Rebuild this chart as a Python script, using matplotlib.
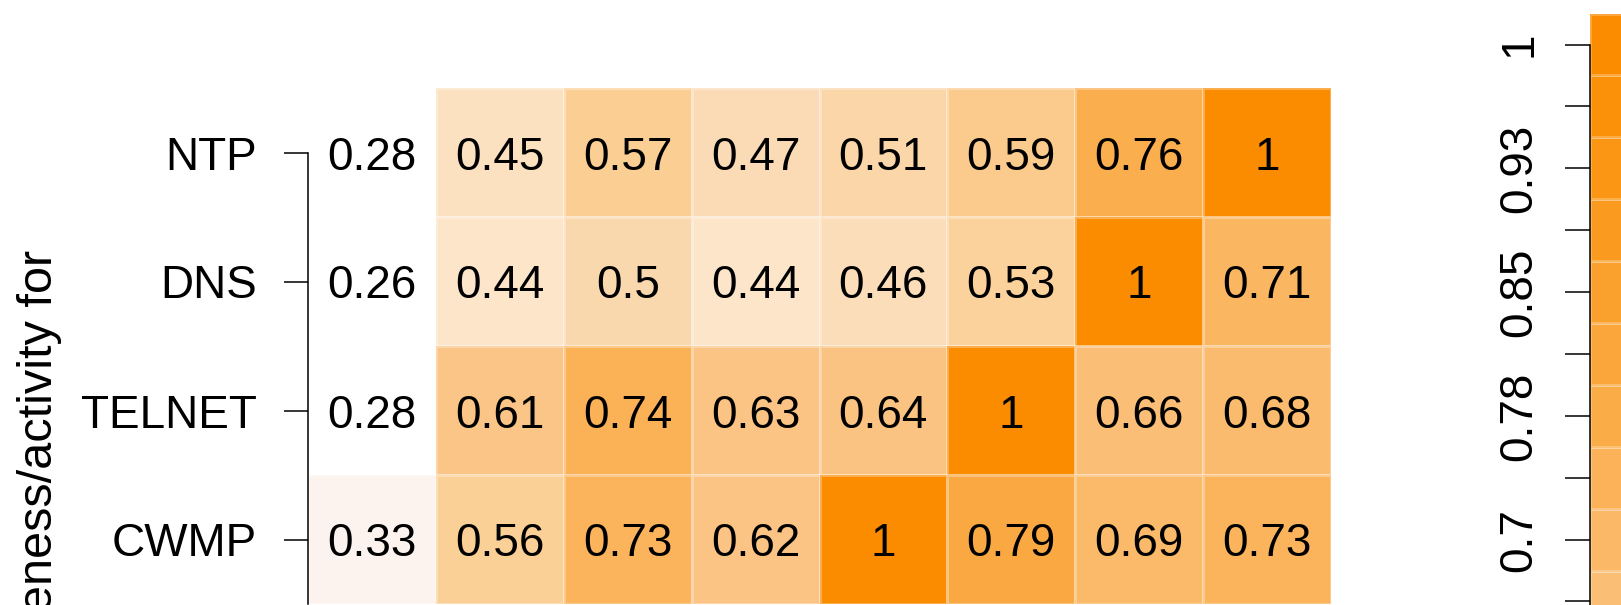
import numpy as np
import matplotlib.pyplot as plt
from matplotlib.colors import LinearSegmentedColormap, Normalize

plt.rcParams['font.family'] = ['Liberation Sans', 'DejaVu Sans']

# Protocols on the rows, eight comparison columns
protocols = ['NTP', 'DNS', 'TELNET', 'CWMP']
ntp_vals = [0.28, 0.45, 0.57, 0.47, 0.51, 0.59, 0.76, 1]
dns_vals = [0.26, 0.44, 0.5, 0.44, 0.46, 0.53, 1, 0.71]
telnet_vals = [0.28, 0.61, 0.74, 0.63, 0.64, 1, 0.66, 0.68]
cwmp_vals = [0.33, 0.56, 0.73, 0.62, 1, 0.79, 0.69, 0.73]

# colour key ticks
key_major = [1, 0.925, 0.85, 0.775, 0.7]
key_labels = ['1', '0.93', '0.85', '0.78', '0.7']
key_minor = [0.9625, 0.8875, 0.8125, 0.7375, 0.6625]

cells = np.array([ntp_vals, dns_vals, telnet_vals, cwmp_vals])
FS = 33

# white -> orange ramp
vmin, vmax = 0.25, 1.0
anchors = [
    (0.25, (255, 255, 255)), (0.29, (255, 255, 255)), (0.33, (253, 243, 238)),
    (0.44, (252, 229, 200)), (0.46, (251, 220, 185)), (0.50, (250, 216, 174)),
    (0.53, (251, 210, 156)), (0.57, (251, 207, 148)), (0.61, (251, 197, 135)),
    (0.64, (251, 195, 130)), (0.66, (251, 190, 118)), (0.70, (251, 184, 102)),
    (0.74, (251, 178, 88)), (0.775, (250, 172, 72)), (0.85, (250, 160, 45)),
    (0.925, (250, 150, 20)), (1.0, (251, 140, 0)),
]
cmap = LinearSegmentedColormap.from_list(
    'orange', [((v - vmin) / (vmax - vmin), tuple(c / 255 for c in rgb)) for v, rgb in anchors])
norm = Normalize(vmin, vmax)

W, H = 1621, 605
fig = plt.figure(figsize=(W / 100, H / 100), dpi=100, facecolor='w')

# heatmap
ax = fig.add_axes([308 / W, (H - 604) / H, (1331 - 308) / W, (604 - 88) / H])
ax.pcolormesh(np.arange(cells.shape[1] + 1), np.arange(cells.shape[0] + 1), cells,
              cmap=cmap, norm=norm, edgecolors=(1, 1, 1, 0.3), linewidth=0.8)
ax.set_xlim(0, cells.shape[1])
ax.set_ylim(cells.shape[0], 0)
for i in range(cells.shape[0]):
    for j in range(cells.shape[1]):
        ax.text(j + 0.5, i + 0.5, '{:g}'.format(round(cells[i, j], 2)),
                ha='center', va='center_baseline', fontsize=FS)
ax.set_xticks([])
ax.set_yticks(np.arange(len(protocols)) + 0.5, protocols)
ax.tick_params(axis='y', length=17.5, width=1.1, pad=19.5, labelsize=FS)
for s in ('top', 'right', 'bottom'):
    ax.spines[s].set_visible(False)
ax.spines['left'].set_linewidth(1.1)
ax.spines['left'].set_bounds(0.5, cells.shape[0])

fig.text(40 / W, (H - 250) / H, 'Responsiveness/activity for', rotation=90,
         ha='center', va='top', fontsize=35)

# colour key on the right
step = 0.0375
centers = np.arange(0.25, 1.0 + step / 2, step)
edges = np.append(centers - step / 2, centers[-1] + step / 2)
ktop = 1 + step / 2
kbot = 1 - (H - 44.5) / 1650.3
cax = fig.add_axes([1590 / W, 0, 90 / W, (H - 13.6) / H])
cax.pcolormesh([0, 1], edges, centers.reshape(-1, 1), cmap=cmap, norm=norm,
               edgecolors=(1, 1, 1, 0.25), linewidth=0.8)
cax.set_xlim(0, 1)
cax.set_ylim(kbot, ktop)
cax.set_xticks([])
cax.set_yticks(key_major, key_labels)
cax.set_yticks(key_minor, minor=True)
cax.tick_params(which='both', axis='y', length=18, width=1.1, pad=17, labelsize=FS)
for lab in cax.get_yticklabels():
    lab.set_rotation(90)
    lab.set_va('center')
for s in ('top', 'right', 'bottom'):
    cax.spines[s].set_visible(False)
cax.spines['left'].set_linewidth(1.1)
cax.spines['left'].set_bounds(kbot, 1)

fig.savefig('out.png', dpi=100)
